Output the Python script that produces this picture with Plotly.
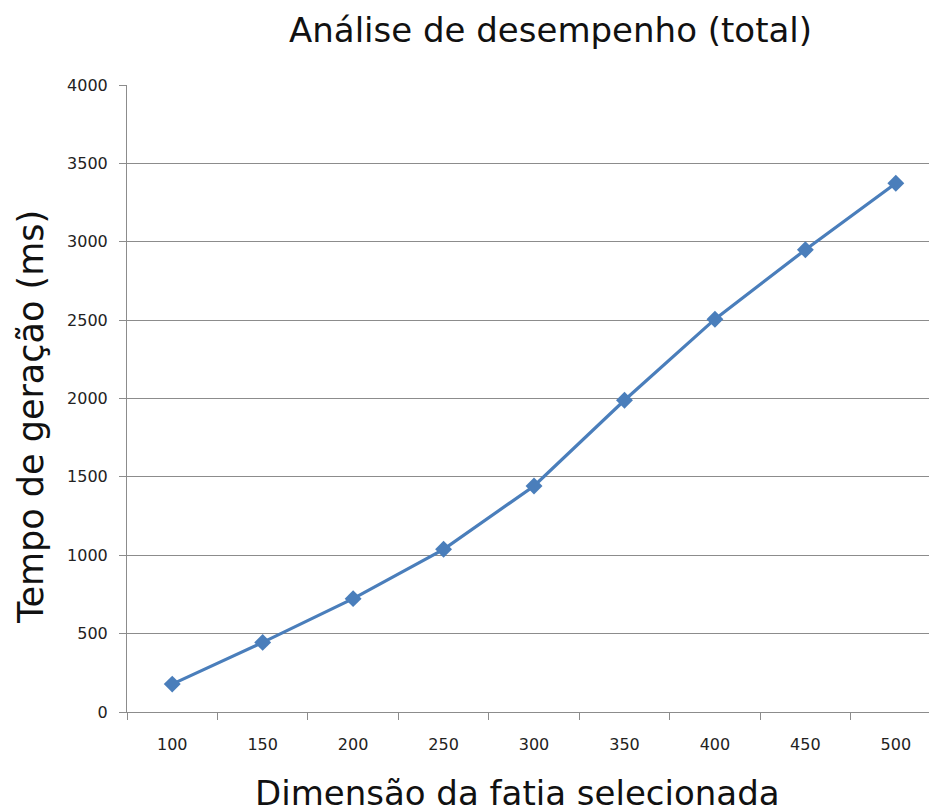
import plotly.graph_objects as go

# Slice dimension (categories) and total generation time in ms
dimensoes = [100, 150, 200, 250, 300, 350, 400, 450, 500]
tempo_ms = [178, 444, 723, 1038, 1442, 1989, 2506, 2949, 3373]
y_ticks = [0, 500, 1000, 1500, 2000, 2500, 3000, 3500, 4000]

W, H = 929, 810
L, R, T, B = 127, 0, 85, 98
plot_w = W - L - R
plot_h = H - T - B

# category-style x axis: each category occupies 50 units, centred on its value
x0 = dimensoes[0] - 25
unit_px = 90.45 / 50.0
x1 = x0 + plot_w / unit_px

FONT = "DejaVu Sans"
GRID = "#8c8c8c"
LINE = "#4a7ebb"


def px_x(p):
    return (p - L) / plot_w


def px_y(p):
    return (H - B - p) / plot_h


fig = go.Figure()
fig.add_trace(go.Scatter(
    x=dimensoes, y=tempo_ms, mode="lines+markers",
    line=dict(color=LINE, width=3.2),
    marker=dict(symbol="diamond", size=13, color=LINE),
    showlegend=False, hoverinfo="x+y",
))

fig.update_layout(
    width=W, height=H,
    margin=dict(l=L, r=R, t=T, b=B),
    paper_bgcolor="white", plot_bgcolor="white",
    font=dict(family=FONT, color="#222222"),
    xaxis=dict(
        range=[x0, x1], tickvals=dimensoes, ticktext=[str(d) for d in dimensoes],
        ticks="", showgrid=False, zeroline=False,
        showline=True, linecolor=GRID, linewidth=1,
        tickfont=dict(family=FONT, size=16, color="#222222"),
        ticklabelstandoff=18,
        minor=dict(ticks="outside", tick0=x0, dtick=50, ticklen=7,
                   tickcolor=GRID, tickwidth=1, showgrid=False),
    ),
    yaxis=dict(
        range=[0, 4000], tickvals=y_ticks, ticks="outside", ticklen=7,
        tickcolor=GRID, tickwidth=1,
        showgrid=True, gridcolor=GRID, gridwidth=1, zeroline=False,
        showline=True, linecolor=GRID, linewidth=1,
        tickfont=dict(family=FONT, size=16, color="#222222"),
        ticklabelstandoff=8,
    ),
    annotations=[
        dict(text="Análise de desempenho (total)", x=px_x(550), y=px_y(30),
             xref="paper", yref="paper", showarrow=False,
             xanchor="center", yanchor="middle",
             font=dict(family=FONT, size=34, color="#111111")),
        dict(text="Dimensão da fatia selecionada", x=px_x(517), y=px_y(793),
             xref="paper", yref="paper", showarrow=False,
             xanchor="center", yanchor="middle",
             font=dict(family=FONT, size=34, color="#111111")),
        dict(text="Tempo de geração (ms)", x=px_x(31), y=px_y(417),
             xref="paper", yref="paper", showarrow=False, textangle=-90,
             xanchor="center", yanchor="middle",
             font=dict(family=FONT, size=35, color="#111111")),
    ],
)

fig.write_html("out.html")
